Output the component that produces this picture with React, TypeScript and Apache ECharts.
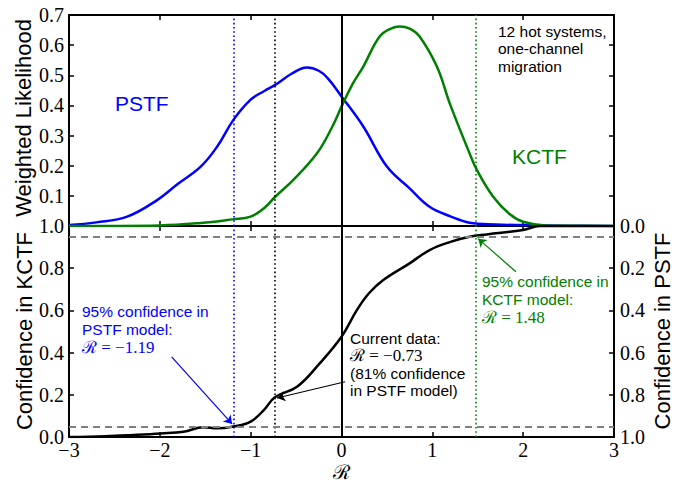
import React, { useEffect, useRef } from "react";
import * as echarts from "echarts";

// Likelihood curves (R vs weighted likelihood)
const pstfR = [-3.0, -2.7, -2.36, -2.03, -1.8, -1.55, -1.37, -1.19, -1.0, -0.85, -0.73, -0.55, -0.38, -0.25, -0.15, 0.0, 0.24, 0.5, 0.75, 0.97, 1.2, 1.41, 1.7, 2.0, 2.5, 3.0];
const pstfLik = [0.003, 0.012, 0.031, 0.086, 0.14, 0.197, 0.263, 0.352, 0.419, 0.448, 0.468, 0.505, 0.526, 0.515, 0.49, 0.43, 0.33, 0.197, 0.125, 0.064, 0.032, 0.011, 0.005, 0.003, 0.001, 0.0];

const kctfR = [-3.0, -2.0, -1.55, -1.2, -1.0, -0.85, -0.73, -0.53, -0.27, -0.1, 0.0, 0.12, 0.24, 0.42, 0.55, 0.64, 0.75, 0.86, 1.05, 1.2, 1.41, 1.49, 1.67, 1.85, 2.0, 2.27, 3.0];
const kctfLik = [0.0, 0.002, 0.01, 0.022, 0.031, 0.06, 0.097, 0.153, 0.241, 0.33, 0.396, 0.47, 0.529, 0.629, 0.656, 0.662, 0.655, 0.629, 0.529, 0.4, 0.241, 0.186, 0.097, 0.04, 0.014, 0.001, 0.0];

// Cumulative confidence in KCTF
const confR = [-3.0, -2.6, -2.29, -1.99, -1.74, -1.52, -1.37, -1.19, -1.0, -0.85, -0.73, -0.49, -0.24, 0.0, 0.167, 0.3, 0.46, 0.75, 0.97, 1.2, 1.41, 1.6, 2.0, 2.18, 3.0];
const confKctf = [0.0, 0.004, 0.01, 0.017, 0.025, 0.046, 0.041, 0.05, 0.073, 0.13, 0.19, 0.238, 0.349, 0.475, 0.6, 0.68, 0.744, 0.823, 0.886, 0.925, 0.949, 0.96, 0.981, 1.0, 1.0];

// Reference R values
const rPstf95 = -1.19;
const rCurrent = -0.73;
const rKctf95 = 1.48;
const confLevels = [0.05, 0.95];

// Annotation arrows: [tailR, tailConf, tipR, tipConf]
const arrowPstf = [-1.87, 0.38, -1.205, 0.062];
const arrowCurrent = [0.04, 0.262, -0.71, 0.185];
const arrowKctf = [1.92, 0.783, 1.505, 0.94];

const xTicks = { min: -3, max: 3, interval: 1 };

const BLUE = "#0000ff";
const GREEN = "#008000";
const SANS = '"Liberation Sans", Arial, sans-serif';
const SERIF = '"Liberation Serif", "DejaVu Serif", serif';

const zip = (a: number[], b: number[]) => a.map((v, i) => [v, b[i]]);
const minus = (v: number) => (v < 0 ? "\u2212" + Math.abs(v) : String(v));

function textLines(x: number, y0: number, step: number, lines: { t: string; math?: boolean }[], color: string, size = 15.5) {
  return lines.map((l, i) => ({
    type: "text",
    x,
    y: y0 + i * step,
    silent: true,
    style: {
      text: l.t,
      fill: color,
      font: l.math ? `${size + 1.5}px ${SERIF}` : `${size}px ${SANS}`,
      textAlign: "left",
      textVerticalAlign: "middle",
    },
  }));
}

function arrow(a: number[], color: string) {
  return [
    { coord: [a[0], a[1]], symbol: "none", lineStyle: { color, width: 1.2, type: "solid" } },
    { coord: [a[2], a[3]], symbol: "arrow", symbolSize: 8 },
  ];
}

export default function App() {
  const ref = useRef<HTMLDivElement>(null);

  useEffect(() => {
    if (!ref.current) return;
    const chart = echarts.init(ref.current, null, { renderer: "svg" });

    const frame = { onZero: false, lineStyle: { color: "#000", width: 2 } };
    const tick = { inside: true, length: 5, lineStyle: { color: "#000", width: 1.5 } };
    const xBase = {
      type: "value",
      ...xTicks,
      axisLine: frame,
      axisTick: tick,
      splitLine: { show: false },
      axisLabel: { show: false },
    };
    const tickFont = { fontFamily: SERIF, fontSize: 20, color: "#000" };

    const vline = (x: number, color: string, dotted: boolean) => ({
      xAxis: x,
      lineStyle: dotted ? { color, width: 1.6, type: [1.6, 2.6] } : { color, width: 2, type: "solid" },
    });
    const vlines = [
      vline(rPstf95, BLUE, true),
      vline(rCurrent, "#000", true),
      vline(rKctf95, GREEN, true),
      vline(0, "#000", false),
    ];

    const curve = (name: string, xi: number, yi: number, data: number[][], color: string) => ({
      name,
      type: "line",
      xAxisIndex: xi,
      yAxisIndex: yi,
      data,
      showSymbol: false,
      smooth: 0.4,
      lineStyle: { color, width: 2.5 },
      z: 3,
    });

    const option = {
      animation: false,
      grid: [
        { left: 69, top: 15, width: 545, height: 211 },
        { left: 69, top: 226, width: 545, height: 211 },
      ],
      xAxis: [
        { ...xBase, gridIndex: 0, position: "bottom" },
        { ...xBase, gridIndex: 0, position: "top" },
        {
          ...xBase,
          gridIndex: 1,
          position: "bottom",
          axisLabel: { show: true, margin: 3, ...tickFont, formatter: minus },
        },
        { ...xBase, gridIndex: 1, position: "top" },
      ],
      yAxis: [
        {
          type: "value",
          gridIndex: 0,
          position: "left",
          min: 0,
          max: 0.7,
          interval: 0.1,
          axisLine: frame,
          axisTick: tick,
          splitLine: { show: false },
          axisLabel: { margin: 5, ...tickFont, formatter: (v: number) => (v === 0 ? "" : v.toFixed(1)) },
        },
        {
          type: "value",
          gridIndex: 0,
          position: "right",
          min: 0,
          max: 0.7,
          interval: 0.1,
          axisLine: frame,
          axisTick: tick,
          splitLine: { show: false },
          axisLabel: { show: false },
        },
        {
          type: "value",
          gridIndex: 1,
          position: "left",
          min: 0,
          max: 1,
          interval: 0.2,
          axisLine: frame,
          axisTick: tick,
          splitLine: { show: false },
          axisLabel: { margin: 5, ...tickFont, formatter: (v: number) => v.toFixed(1) },
        },
        {
          type: "value",
          gridIndex: 1,
          position: "right",
          inverse: true,
          min: 0,
          max: 1,
          interval: 0.2,
          axisLine: frame,
          axisTick: tick,
          splitLine: { show: false },
          axisLabel: { margin: 6, ...tickFont, formatter: (v: number) => v.toFixed(1) },
        },
      ],
      series: [
        {
          ...curve("PSTF", 0, 0, zip(pstfR, pstfLik), BLUE),
          markLine: {
            silent: true,
            symbol: ["none", "none"],
            label: { show: false },
            data: vlines,
          },
        },
        curve("KCTF", 0, 0, zip(kctfR, kctfLik), GREEN),
        {
          ...curve("Confidence in KCTF", 2, 2, zip(confR, confKctf), "#000"),
          markLine: {
            silent: true,
            symbol: ["none", "none"],
            label: { show: false },
            data: [
              ...vlines,
              ...confLevels.map((c) => ({
                yAxis: c,
                lineStyle: { color: "#808080", width: 2, type: [7, 5] },
              })),
              arrow(arrowPstf, BLUE),
              arrow(arrowCurrent, "#000"),
              arrow(arrowKctf, GREEN),
            ],
          },
        },
      ],
      graphic: [
        {
          type: "text",
          x: 23,
          y: 118,
          rotation: Math.PI / 2,
          silent: true,
          style: { text: "Weighted Likelihood", fill: "#000", font: `22px ${SANS}`, textAlign: "center", textVerticalAlign: "middle" },
        },
        {
          type: "text",
          x: 24,
          y: 331,
          rotation: Math.PI / 2,
          silent: true,
          style: { text: "Confidence in KCTF", fill: "#000", font: `22px ${SANS}`, textAlign: "center", textVerticalAlign: "middle" },
        },
        {
          type: "text",
          x: 662,
          y: 331,
          rotation: Math.PI / 2,
          silent: true,
          style: { text: "Confidence in PSTF", fill: "#000", font: `22px ${SANS}`, textAlign: "center", textVerticalAlign: "middle" },
        },
        {
          type: "text",
          x: 341.5,
          y: 472,
          silent: true,
          style: { text: "\u211B", fill: "#000", font: `20px ${SERIF}`, textAlign: "center", textVerticalAlign: "middle" },
        },
        ...textLines(115, 103, 0, [{ t: "PSTF" }], BLUE, 21),
        ...textLines(512, 156, 0, [{ t: "KCTF" }], GREEN, 21),
        ...textLines(498, 31, 17.5, [{ t: "12 hot systems," }, { t: "one-channel" }, { t: "migration" }], "#000"),
        ...textLines(82, 311.5, 17.8, [{ t: "95% confidence in" }, { t: "PSTF model:" }, { t: "\u211B = \u22121.19", math: true }], BLUE),
        ...textLines(350, 338, 17.5, [{ t: "Current data:" }, { t: "\u211B = \u22120.73", math: true }, { t: "(81% confidence" }, { t: "in PSTF model)" }], "#000"),
        ...textLines(482, 281.5, 17.8, [{ t: "95% confidence in" }, { t: "KCTF model:" }, { t: "\u211B = 1.48", math: true }], GREEN),
      ],
    };

    chart.setOption(option as any);
    return () => chart.dispose();
  }, []);

  return (
    <div
      ref={ref}
      style={{ position: "fixed", left: 0, top: 0, width: 685, height: 483, background: "#fff" }}
    />
  );
}
